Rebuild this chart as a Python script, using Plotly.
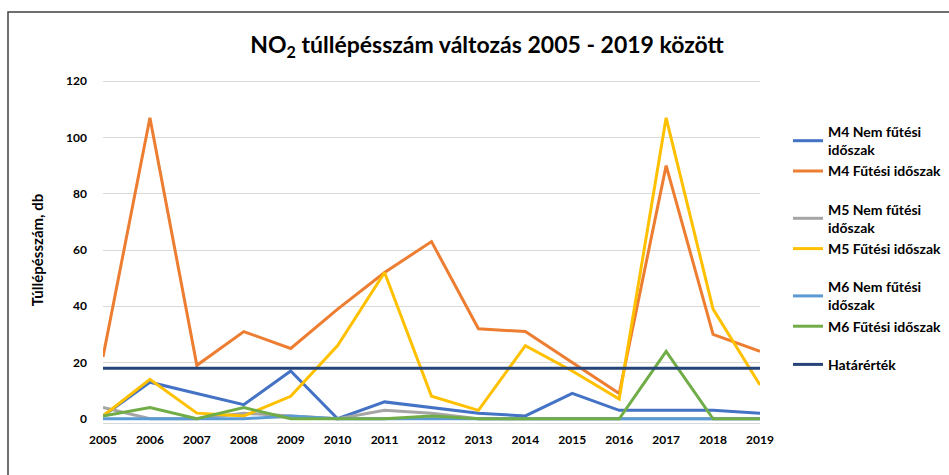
import plotly.graph_objects as go

years = [str(y) for y in range(2005, 2020)]
m4_nem = [1, 13, 9, 5, 17, 0, 6, 4, 2, 1, 9, 3, 3, 3, 2]
m4_fut = [22, 107, 19, 31, 25, 39, 52, 63, 32, 31, 20, 9, 90, 30, 24]
m5_nem = [4, 0, 0, 2, 1, 0, 3, 2, 0, 0, 0, 0, 0, 0, 0]
m5_fut = [1, 14, 2, 1, 8, 26, 52, 8, 3, 26, 17, 7, 107, 39, 12]
m6_nem = [0, 0, 0, 0, 1, 0, 0, 0, 0, 0, 0, 0, 0, 0, 0]
m6_fut = [1, 4, 0, 4, 0, 0, 0, 1, 0, 0, 0, 0, 24, 0, 0]
hatar = [18] * 15

series = [
    ("M4 Nem fűtési<br>időszak", m4_nem, "#4472C4", "g1"),
    ("M4 Fűtési időszak", m4_fut, "#ED7D31", "g1"),
    ("M5 Nem fűtési<br>időszak", m5_nem, "#A5A5A5", "g2"),
    ("M5 Fűtési időszak", m5_fut, "#FFC000", "g2"),
    ("M6 Nem fűtési<br>időszak", m6_nem, "#5B9BD5", "g3"),
    ("M6 Fűtési időszak", m6_fut, "#70AD47", "g3"),
    ("Határérték", hatar, "#264478", "g4"),
]

FONT = "Lato"
fig = go.Figure()
for name, vals, col, grp in series:
    fig.add_trace(go.Scatter(
        x=years, y=vals, name=name, mode="lines", legendgroup=grp,
        line=dict(color=col, width=3),
    ))

L, R, T, B = 103, 189, 77, 52
W, H = 949, 475
pw, ph = W - L - R, H - T - B

def px_x(x):
    return (x - L) / pw

def px_y(y):
    return (H - B - y) / ph

fig.update_layout(
    width=W, height=H,
    margin=dict(l=L, r=R, t=T, b=B, autoexpand=False),
    paper_bgcolor="white", plot_bgcolor="white",
    font=dict(family=FONT, color="#000000"),
    title=dict(
        text="NO<sub>2</sub> túllépésszám változás 2005 - 2019 között",
        x=487 / W, xanchor="center", y=1 - 45 / H, yanchor="middle",
        font=dict(size=23, family=FONT, weight="bold", color="#000000"),
    ),
    legend=dict(
        x=px_x(788), xanchor="left", y=px_y(116), yanchor="top",
        font=dict(size=14, family=FONT, weight="bold", color="#000000"),
        traceorder="grouped", tracegroupgap=17,
        bgcolor="rgba(0,0,0,0)",
    ),
    xaxis=dict(
        type="category", showgrid=False, showline=True, linecolor="#D9D9D9",
        linewidth=1, ticks="", ticklabelstandoff=6,
        tickfont=dict(size=12, family=FONT, weight="bold", color="#000000"),
    ),
    yaxis=dict(
        range=[-1.5, 121.5], tickvals=[0, 20, 40, 60, 80, 100, 120],
        showgrid=True, gridcolor="#D9D9D9", gridwidth=1, zeroline=False,
        showline=False, ticks="", ticklabelstandoff=15,
        tickfont=dict(size=12, family=FONT, weight="bold", color="#000000"),
        title=dict(text="Túllépésszám, db", standoff=18,
                   font=dict(size=15, family=FONT, weight="bold", color="#000000")),
    ),
    shapes=[dict(
        type="rect", xref="paper", yref="paper",
        x0=px_x(8), x1=px_x(990), y0=px_y(12), y1=px_y(H + 30),
        line=dict(color="#404040", width=1.5), fillcolor="rgba(0,0,0,0)",
        layer="above",
    )],
)

fig.write_html(
    "out.html",
    config={"displayModeBar": False},
    post_script="document.documentElement.style.margin='0';"
                "document.body.style.margin='0';"
                "document.body.style.overflow='hidden';",
)
